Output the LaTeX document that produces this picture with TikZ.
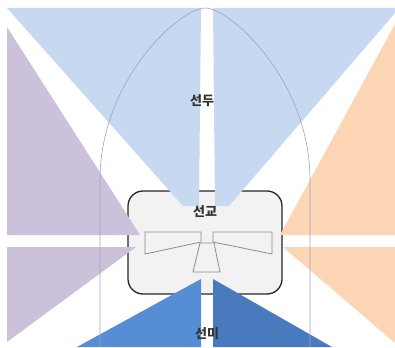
\documentclass[tikz,border=0pt]{standalone}
\usepackage{fontspec}
\newfontfamily\kr{Noto Sans CJK KR}
\usepackage{xcolor}
\usepackage{tikz}
\definecolor{bowblue}{RGB}{198,217,240}
\definecolor{portlila}{RGB}{204,193,218}
\definecolor{stbdpeach}{RGB}{252,213,181}
\definecolor{aftblue}{RGB}{85,142,213}
\definecolor{aftdark}{RGB}{74,122,190}
\definecolor{deckgray}{RGB}{242,242,242}
\definecolor{hullline}{RGB}{150,166,190}
\tikzset{
  sector/.style={draw=none},
  deck/.style={draw=black!85, line width=1.3pt, fill=deckgray, rounded corners=15pt},
  wing/.style={draw=black!45, line width=0.8pt},
  hull/.style={draw=hullline, line width=0.6pt},
  lbl/.style={font=\kr\bfseries\fontsize{13}{13}\selectfont, text=black!80, inner sep=1pt}
}
\begin{document}
\begin{tikzpicture}[x=1pt,y=-1pt]
\useasboundingbox (0,0) rectangle (395,347);
\draw[deck] (128,191) rectangle (282,294);
\fill[sector, bowblue] (7,8) -- (201,8) -- (199,206) -- (183,206) -- cycle;
\fill[sector, bowblue] (213,8) -- (395,8) -- (395,13) -- (229,206) -- (215,206) -- cycle;
\fill[sector, portlila] (7,27) -- (140,235) -- (7,235) -- cycle;
\fill[sector, portlila] (7,247) -- (136,247) -- (7,342) -- cycle;
\fill[sector, stbdpeach] (395,24) -- (395,235) -- (280,235) -- cycle;
\fill[sector, stbdpeach] (395,247) -- (283,247) -- (395,343) -- cycle;
\fill[sector, aftblue] (201,279) -- (201,347) -- (77,347) -- cycle;
\fill[sector, aftdark] (213,279) -- (213,347) -- (332,347) -- cycle;
\draw[wing] (145,232) -- (201,232) -- (201,242) -- (145,254) -- cycle;
\draw[wing] (213,232) -- (272,232) -- (272,254) -- (213,242) -- cycle;
\draw[wing] (200,243) -- (214,243) -- (220,272) -- (193,272) -- cycle;
\draw[hull] (100,347) -- (100,180) .. controls (100,80) and (180,8) .. (205,8)
  .. controls (230,8) and (310,80) .. (310,180) -- (310,347);
\node[lbl] (bow) at (202,101) {선두};
\node[lbl] (bridge) at (205,212) {선교};
\node[lbl] (stern) at (207,334) {선미};
\end{tikzpicture}
\end{document}
